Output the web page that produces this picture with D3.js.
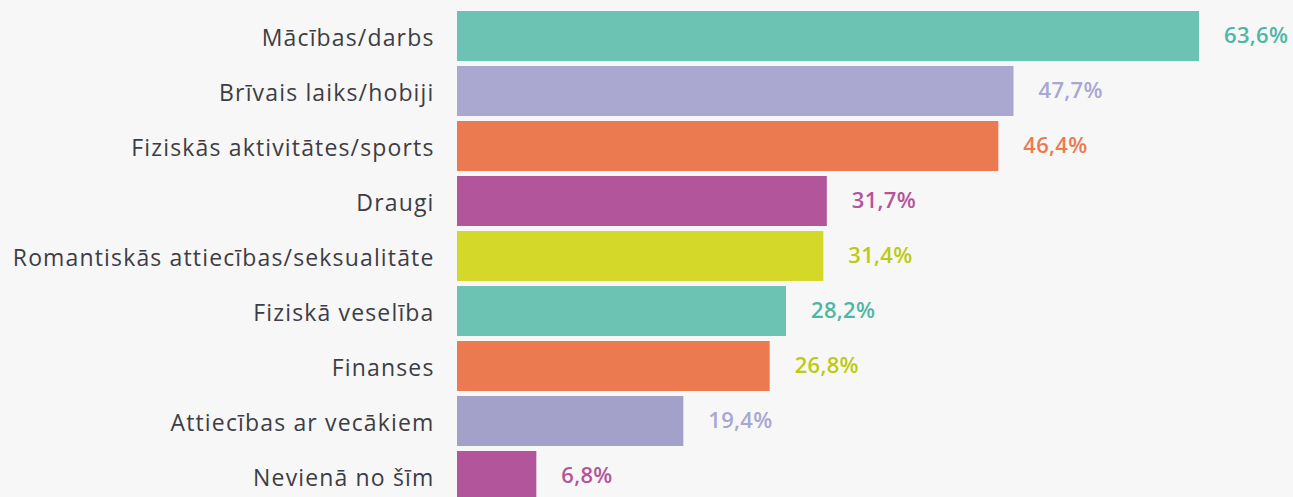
<!DOCTYPE html>
<html><head><meta charset="utf-8">
<script src="https://cdn.jsdelivr.net/npm/d3@7"></script>
<style>html,body{margin:0;padding:0;background:#f7f7f7;}svg{display:block;}</style>
</head><body>
<svg id="chart" width="1293" height="497"></svg>
<script>
const categories = ["Mācības/darbs","Brīvais laiks/hobiji","Fiziskās aktivitātes/sports","Draugi","Romantiskās attiecības/seksualitāte","Fiziskā veselība","Finanses","Attiecības ar vecākiem","Nevienā no šīm"];
const values = [63.6,47.7,46.4,31.7,31.4,28.2,26.8,19.4,6.8];
const valueLabels = ["63,6%","47,7%","46,4%","31,7%","31,4%","28,2%","26,8%","19,4%","6,8%"];
const barColors = ["#6cc2b3","#aaa8d1","#ec7a51","#b3559b","#d4d929","#6cc2b3","#ec7a51","#a3a0ca","#b3559b"];
const labelColors = ["#4fb6a6","#a9a7d0","#ec7a51","#b3559b","#bccb10","#4fb6a6","#bccb10","#a9a7d0","#b3559b"];

const svg = d3.select("#chart");
const x0 = 457;
const x = d3.scaleLinear().domain([0,63.6]).range([x0,1199]);
const step = 55, bw = 50;
const y = d3.scaleBand().domain(categories)
  .range([11, 11+step*categories.length-(step-bw)])
  .paddingInner((step-bw)/step).paddingOuter(0).align(0);

const g = svg.append("g");
g.selectAll("rect").data(categories).join("rect")
  .attr("x", x0).attr("y", d=>y(d))
  .attr("width", (d,i)=>x(values[i])-x0).attr("height", y.bandwidth())
  .attr("fill", (d,i)=>barColors[i]);

g.selectAll("text.cat").data(categories).join("text").attr("class","cat")
  .attr("x", 434.5).attr("y", d=>y(d)+y.bandwidth()/2+10)
  .attr("text-anchor","end")
  .style("font-family","'Open Sans', sans-serif").style("font-size","23px")
  .style("letter-spacing","1.15px")
  .attr("fill","#3d3d45").text(d=>d);

g.selectAll("text.val").data(categories).join("text").attr("class","val")
  .attr("x", (d,i)=>x(values[i])+25).attr("y", d=>y(d)+y.bandwidth()/2+7)
  .style("font-family","'Open Sans', sans-serif").style("font-size","22px").style("font-weight","600")
  .style("letter-spacing","0.3px")
  .attr("fill",(d,i)=>labelColors[i]).text((d,i)=>valueLabels[i]);
</script>
</body></html>
